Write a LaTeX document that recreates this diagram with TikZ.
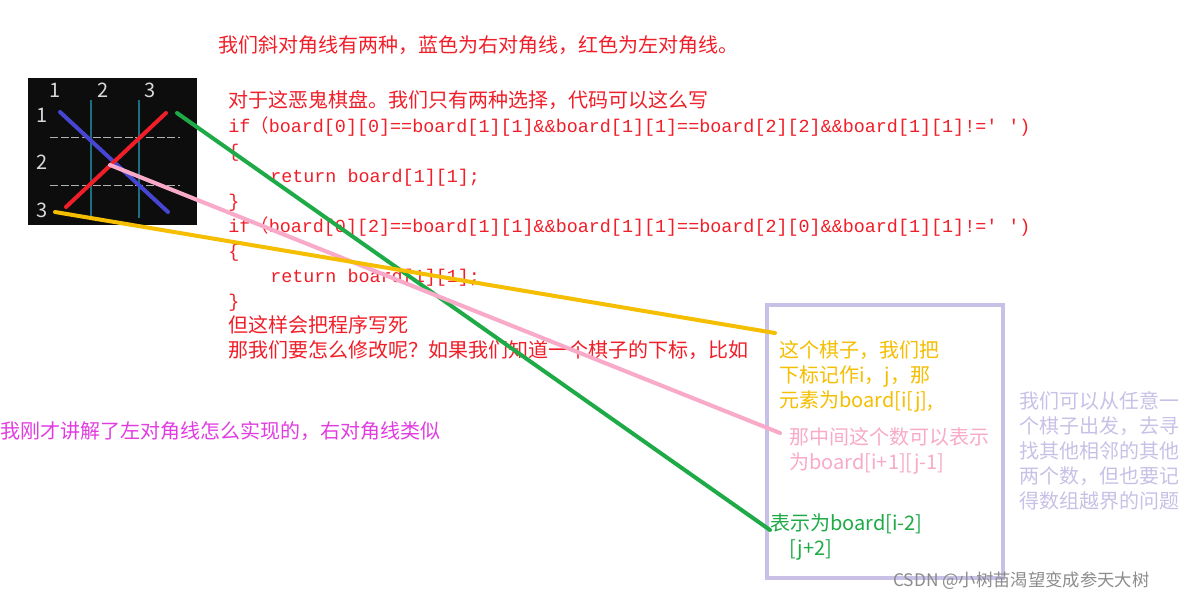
\documentclass[tikz,border=0pt]{standalone}
\usepackage{fontspec}
\setmainfont{Noto Sans CJK SC}
\newfontfamily\codefont{Liberation Mono}
\newcommand{\wideparen}{{\rmfamily （}}
\definecolor{codered}{RGB}{240,30,40}
\definecolor{noteyellow}{RGB}{245,190,0}
\definecolor{notepink}{RGB}{248,170,200}
\definecolor{notegreen}{RGB}{30,170,70}
\definecolor{notelav}{RGB}{200,192,230}
\definecolor{notemag}{RGB}{225,60,225}
\definecolor{diagblue}{RGB}{70,70,210}
\definecolor{gridteal}{RGB}{30,110,130}
\tikzset{
  txt/.style={anchor=base west,inner sep=0pt,font=\fontsize{15pt}{18pt}\selectfont},
  code/.style={txt,font=\fontsize{13.8pt}{16pt}\selectfont\codefont},
  num/.style={anchor=base,inner sep=0pt,text=white!85!black,font=\fontsize{15pt}{18pt}\selectfont},
  stroke/.style={line width=3pt,line cap=round},
}
\begin{document}
\begin{tikzpicture}[x=0.75pt,y=0.75pt,yscale=-1,xscale=1]
\useasboundingbox (0,0) rectangle (1199,600);
%board
\fill[black!95] (28,78) rectangle (197,225);
\foreach \n/\x in {1/55,2/103,3/150} \node[num] (top\n) at (\x,97) {\n};
\foreach \n/\y in {1/122,2/169,3/217} \node[num] (left\n) at (42,\y) {\n};
\foreach \x in {91,139} \draw[gridteal,line width=1pt] (\x,100) -- (\x,218);
\foreach \y in {137,185} \draw[white!70!black,dash pattern=on 6pt off 2pt] (50,\y) -- (180,\y);
\coordinate (b1) at (60,112);
\coordinate (b2) at (168,212);
\coordinate (r1) at (66,207);
\coordinate (r2) at (166,113);
\draw[stroke,diagblue] (b1) -- (b2);
\draw[stroke,codered] (r1) -- (r2);
%texts
\node[txt,text=codered] (title) at (218,52) {我们斜对角线有两种，蓝色为右对角线，红色为左对角线。};
\node[txt,text=codered] (intro) at (228,107) {对于这恶鬼棋盘。我们只有两种选择，代码可以这么写};
\node[code,text=codered] (if1) at (228,132) {if\wideparen board[0][0]==board[1][1]\&\&board[1][1]==board[2][2]\&\&board[1][1]!=' ')};
\node[code,text=codered] (ob1) at (228,157) {\{};
\node[code,text=codered] (ret1) at (270,182) {return board[1][1];};
\node[code,text=codered] (cb1) at (228,207) {\}};
\node[code,text=codered] (if2) at (228,232) {if\wideparen board[0][2]==board[1][1]\&\&board[1][1]==board[2][0]\&\&board[1][1]!=' ')};
\node[code,text=codered] (ob2) at (228,257) {\{};
\node[code,text=codered] (ret2) at (270,282) {return board[1][1];};
\node[code,text=codered] (cb2) at (228,307) {\}};
\node[txt,text=codered] (dead) at (228,332) {但这样会把程序写死};
\node[txt,text=codered] (how) at (228,357) {那我们要怎么修改呢？如果我们知道一个棋子的下标，比如};
\node[txt,text=notemag] (left) at (0,438) {我刚才讲解了左对角线怎么实现的，右对角线类似};
%box
\draw[notelav,line width=3pt,fill=white] (767,305) rectangle (1003,578);
\node[txt,text=noteyellow] (y1) at (779,357) {这个棋子，我们把};
\node[txt,text=noteyellow] (y2) at (779,382) {下标记作i，j，那};
\node[txt,text=noteyellow] (y3) at (779,407) {元素为board[i[j],};
\node[txt,text=notepink] (p1) at (789,444) {那中间这个数可以表示};
\node[txt,text=notepink] (p2) at (789,469) {为board[i+1][j-1]};
\node[txt,text=notegreen] (g1) at (770,530) {表示为board[i-2]};
\node[txt,text=notegreen] (g2) at (789,555) {[j+2]};
\foreach \t [count=\i] in {我们可以从任意一,个棋子出发，去寻,找其他相邻的其他,两个数，但也要记,得数组越界的问题}
  \node[txt,text=notelav] (lav\i) at (1019,{383+25*\i}) {\t};
\node[txt,text=black!45,font=\fontsize{13pt}{15pt}\selectfont] (mark) at (893,586) {CSDN @小树苗渴望变成参天大树};
%connectors
\coordinate (gs) at (177,113);
\coordinate (ge) at (770,530);
\coordinate (ps) at (110,165);
\coordinate (pe) at (780,433);
\coordinate (ys) at (55,212);
\coordinate (ye) at (775,333);
\draw[stroke,notegreen] (gs) -- (ge);
\draw[stroke,notepink] (ps) -- (pe);
\draw[stroke,noteyellow] (ys) -- (ye);
\end{tikzpicture}
\end{document}
